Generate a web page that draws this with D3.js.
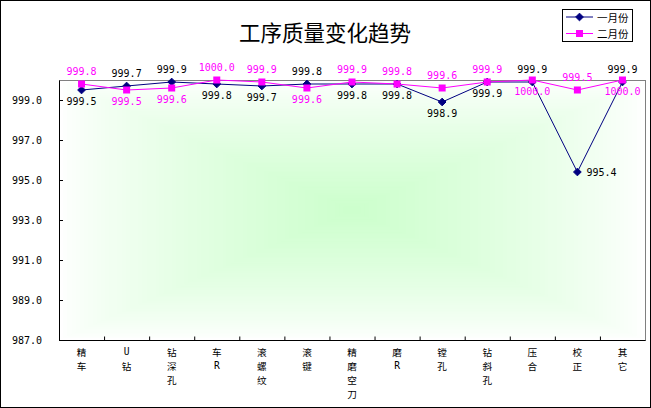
<!DOCTYPE html>
<html><head><meta charset="utf-8">
<script src="https://cdn.jsdelivr.net/npm/d3@7"></script>
<style>body{margin:0;background:#fff;} svg{display:block}</style>
</head><body>
<script>
const title = "工序质量变化趋势";
const categories = ["精车","U钻","钻深孔","车R","滚螺纹","滚键","精磨空刀","磨R","镗孔","钻斜孔","压合","校正","其它"];
const seriesNames = ["一月份","二月份"];
const janValues = [999.5,999.7,999.9,999.8,999.7,999.8,999.8,999.8,998.9,999.9,999.9,995.4,999.9];
const febValues = [999.8,999.5,999.6,1000.0,999.9,999.6,999.9,999.8,999.6,999.9,1000.0,999.5,1000.0];
const yTicks = [987,989,991,993,995,997,999];
const janLabelPos = ["below","above","above","below","below","above","below","below","below","below","above","right","above"];
const febLabelPos = ["above","below","below","above","above","below","above","above","above","above","below","above","below"];

const W = 651, H = 408;
const L = 59, R = 645, T = 80, B = 340;
const numFont = "'DejaVu Sans Mono', monospace";
const cjkFont = "'Noto Sans CJK SC', sans-serif";
const navy = "#000080", magenta = "#FF00FF";

const svg = d3.select("body").append("svg").attr("width", W).attr("height", H);
svg.append("rect").attr("x",0).attr("y",0).attr("width",W).attr("height",H).attr("fill","#fff");
svg.append("rect").attr("x",0.5).attr("y",0.5).attr("width",W-1).attr("height",H-1)
  .attr("fill","none").attr("stroke","#000");

const x = d3.scaleBand().domain(categories).range([L, R]).padding(0);
const y = d3.scaleLinear().domain([987, 1000]).range([B, T]);
const cx = c => x(c) + x.bandwidth()/2;

// rectangular "from center" gradient background
const grad = svg.append("g");
const N = 70, gcx = (L+R)/2, gcy = (T+B)/2, hw = (R-L)/2, hh = (B-T)/2;
const col = d3.interpolateRgb("#ffffff", "#ccffcc");
d3.range(N).forEach(i => {
  const t = 1 - i/N;
  grad.append("rect").attr("x", gcx - hw*t).attr("y", gcy - hh*t)
    .attr("width", 2*hw*t).attr("height", 2*hh*t)
    .attr("fill", col(Math.pow(i/N, 0.75)));
});

// plot border (gray)
svg.append("rect").attr("x",L+0.5).attr("y",T+0.5).attr("width",R-L).attr("height",B-T)
  .attr("fill","none").attr("stroke","#808080");

// y axis
const yAxis = svg.append("g").attr("transform",`translate(${L},0)`)
  .call(d3.axisLeft(y).tickValues(yTicks).tickSizeInner(-4).tickSizeOuter(0).tickPadding(17).tickFormat(d3.format(".1f")));
yAxis.select(".domain").attr("stroke","#000");
yAxis.selectAll("line").attr("stroke","#000");
yAxis.selectAll("text").attr("font-family",numFont).attr("font-size",10).attr("fill","#000");

// x axis
svg.append("line").attr("x1",L).attr("x2",R+0.5).attr("y1",B+0.5).attr("y2",B+0.5).attr("stroke","#000");
svg.selectAll(".xtick").data(categories.slice(1)).enter().append("line")
  .attr("x1", c => x(c)+0.5).attr("x2", c => x(c)+0.5)
  .attr("y1", B+0.5).attr("y2", B-3.5).attr("stroke","#000");
const chars = [];
categories.forEach(c => Array.from(c).forEach((ch,i) => chars.push({c, ch, i})));
svg.append("g").selectAll("text").data(chars).enter().append("text")
  .attr("text-anchor","middle").attr("font-size",9.6)
  .attr("font-family", d => /[A-Za-z]/.test(d.ch) ? numFont : cjkFont).attr("fill","#000")
  .attr("dominant-baseline","central")
  .attr("x", d => cx(d.c)).attr("y", d => 351.5 + d.i*14)
  .text(d => d.ch);

// series
const series = [
  {name: seriesNames[0], values: janValues, color: navy, label: "#000", pos: janLabelPos, marker: "diamond"},
  {name: seriesNames[1], values: febValues, color: magenta, label: magenta, pos: febLabelPos, marker: "square"}
];
const line = d3.line().x((d,i) => cx(categories[i])).y(d => y(d));
function drawMarker(g, type, color, px, py) {
  if (type === "diamond") {
    g.append("path").attr("d", d3.symbol(d3.symbolDiamond2, 38)()).attr("transform",`translate(${px},${py})`)
      .attr("fill", color).attr("stroke", color);
  } else {
    g.append("rect").attr("x", px-3.5).attr("y", py-3.5).attr("width",7).attr("height",7).attr("fill",color);
  }
}
series.forEach(s => {
  const g = svg.append("g");
  g.append("path").datum(s.values).attr("d", line).attr("fill","none").attr("stroke", s.color).attr("stroke-width",1);
  s.values.forEach((v,i) => drawMarker(g, s.marker, s.color, cx(categories[i]), y(v)));
});
series.forEach(s => {
  svg.append("g").selectAll("text").data(s.values).enter().append("text")
    .attr("font-family", numFont).attr("font-size",10).attr("fill", s.label)
    .attr("dominant-baseline","central")
    .attr("text-anchor", (d,i) => s.pos[i] === "right" ? "start" : "middle")
    .attr("x", (d,i) => cx(categories[i]) + (s.pos[i] === "right" ? 9 : 0))
    .attr("y", (d,i) => y(d) + (s.pos[i] === "above" ? -12.5 : s.pos[i] === "below" ? 11.5 : 0))
    .text(d => d3.format(".1f")(d));
});

// title
svg.append("text").attr("x", 325).attr("y", 41).attr("text-anchor","middle")
  .attr("font-family", cjkFont).attr("font-size",21.5).attr("fill","#000").text(title);

// legend
const lg = svg.append("g");
lg.append("rect").attr("x",562.5).attr("y",9.5).attr("width",70).attr("height",32).attr("fill","#fff").attr("stroke","#000");
series.forEach((s,i) => {
  const ly = 17 + i*16.5;
  lg.append("line").attr("x1",566).attr("x2",593).attr("y1",ly).attr("y2",ly).attr("stroke",s.color);
  drawMarker(lg, s.marker, s.color, 579.5, ly);
  lg.append("text").attr("x",597).attr("y",ly).attr("dominant-baseline","central")
    .attr("font-family",cjkFont).attr("font-size",10.5).attr("fill","#000").text(s.name);
});
</script>
</body></html>
